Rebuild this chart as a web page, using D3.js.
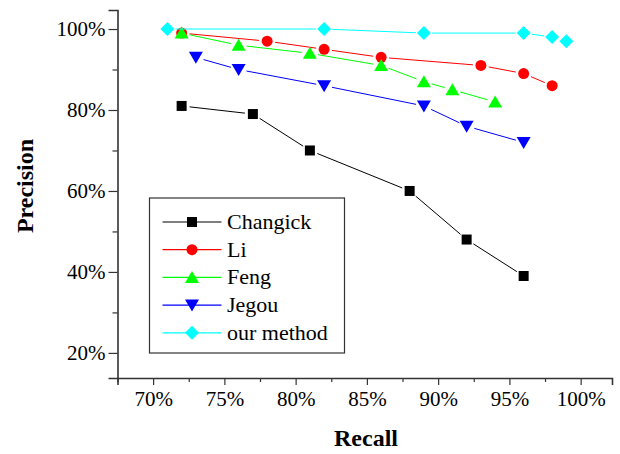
<!DOCTYPE html>
<html>
<head>
<meta charset="utf-8">
<script src="https://cdn.jsdelivr.net/npm/d3@7"></script>
<style>
  body { margin: 0; background: #fff; }
  svg text { fill: #000; }
  .axis path, .axis line { stroke: #333; }
</style>
</head>
<body>
<div id="chart"></div>
<script>
// recall / precision values (in %)
var seriesNames = ["Changick", "Li", "Feng", "Jegou", "our method"];
var seriesColors = ["#000000", "#ff0000", "#00ff00", "#0000ff", "#00ffff"];
var seriesShapes = ["square", "circle", "triangle", "triangleDown", "diamond"];

var changickRecall = [72, 77, 81, 88, 92, 96];
var changickPrecision = [81, 79, 70, 60, 48, 39];

var liRecall = [72, 78, 82, 86, 93, 96, 98];
var liPrecision = [99, 97, 95, 93, 91, 89, 86];

var fengRecall = [72, 76, 81, 86, 89, 91, 94];
var fengPrecision = [99, 96, 94, 91, 87, 85, 82];

var jegouRecall = [73, 76, 82, 89, 92, 96];
var jegouPrecision = [93, 90, 86, 81, 76, 72];

var oursRecall = [71, 82, 89, 96, 98, 99];
var oursPrecision = [100, 100, 99, 99, 98, 97];

var xMajorTicks = [70, 75, 80, 85, 90, 95, 100];
var xMinorTicks = [67.5, 72.5, 77.5, 82.5, 87.5, 92.5, 97.5];
var yMajorTicks = [20, 40, 60, 80, 100];
var yMinorTicks = [30, 50, 70, 90];

var allRecall = [changickRecall, liRecall, fengRecall, jegouRecall, oursRecall];
var allPrecision = [changickPrecision, liPrecision, fengPrecision, jegouPrecision, oursPrecision];

var serif = '"Liberation Serif", "Times New Roman", Times, "Nimbus Roman", "Noto Serif", "DejaVu Serif", FreeSerif, serif';

var svgWidth = 620;
var svgHeight = 454;

var svg = d3.select("#chart")
  .append("svg")
  .attr("width", svgWidth)
  .attr("height", svgHeight);

svg.append("rect")
  .attr("width", svgWidth)
  .attr("height", svgHeight)
  .attr("fill", "#fff");

var xScale = d3.scaleLinear().domain([67.5, 102.2]).range([117.5, 612]);
var yScale = d3.scaleLinear().domain([13.8, 104.7]).range([378, 10]);

// marker path builder
function markerPath(shape) {
  if (shape === "square") return "M-5,-5H5V5H-5Z";
  if (shape === "circle") return "M-5.5,0A5.5,5.5 0 1,0 5.5,0A5.5,5.5 0 1,0 -5.5,0Z";
  if (shape === "triangle") return "M0,-6.5L7,5.5L-7,5.5Z";
  if (shape === "triangleDown") return "M0,6.5L7,-5.5L-7,-5.5Z";
  if (shape === "diamond") return "M0,-7L7,0L0,7L-7,0Z";
}

// axes
var xAxisY = yScale(13.8);
var yAxisX = xScale(67.5);

var xAxis = svg.append("g")
  .attr("class", "axis")
  .attr("transform", `translate(0,${xAxisY})`)
  .call(d3.axisBottom(xScale).tickValues(xMajorTicks).tickSize(7).tickPadding(6).tickFormat(d => d + "%"));
xAxis.attr("font-family", serif);
xAxis.select(".domain").attr("stroke-width", 1.6);
xAxis.selectAll("line").attr("stroke-width", 1.2);
xAxis.selectAll("text").style("font-size", "21px").style("font-family", serif);

svg.append("g")
  .attr("class", "axis")
  .attr("transform", `translate(0,${xAxisY})`)
  .call(d3.axisBottom(xScale).tickValues(xMinorTicks).tickSize(4).tickFormat(""))
  .call(g => g.select(".domain").remove())
  .selectAll("line").attr("stroke-width", 1.2);

var yAxis = svg.append("g")
  .attr("class", "axis")
  .attr("transform", `translate(${yAxisX},0)`)
  .call(d3.axisLeft(yScale).tickValues(yMajorTicks).tickSize(9).tickPadding(3).tickFormat(d => d + "%"));
yAxis.attr("font-family", serif);
yAxis.select(".domain").attr("stroke-width", 1.6);
yAxis.selectAll("line").attr("stroke-width", 1.2);
yAxis.selectAll("text").style("font-size", "21px").style("font-family", serif);

svg.append("g")
  .attr("class", "axis")
  .attr("transform", `translate(${yAxisX},0)`)
  .call(d3.axisLeft(yScale).tickValues(yMinorTicks).tickSize(5).tickFormat(""))
  .call(g => g.select(".domain").remove())
  .selectAll("line").attr("stroke-width", 1.2);

// axis titles
svg.append("text")
  .attr("x", 366)
  .attr("y", 446)
  .attr("text-anchor", "middle")
  .style("font-family", serif)
  .style("font-size", "24px")
  .style("font-weight", "bold")
  .text("Recall");

svg.append("text")
  .attr("transform", "translate(33,186) rotate(-90)")
  .attr("text-anchor", "middle")
  .style("font-family", serif)
  .style("font-size", "24px")
  .style("font-weight", "bold")
  .text("Precision");

// series: line segments leave a small gap around each marker
var gap = 8;
seriesNames.forEach(function(name, i) {
  var pts = allRecall[i].map((r, j) => [xScale(r), yScale(allPrecision[i][j])]);
  var g = svg.append("g");
  for (var j = 0; j < pts.length - 1; j++) {
    var a = pts[j], b = pts[j + 1];
    var dx = b[0] - a[0], dy = b[1] - a[1];
    var len = Math.sqrt(dx * dx + dy * dy);
    if (len <= gap * 2) continue;
    var ux = dx / len, uy = dy / len;
    g.append("line")
      .attr("x1", a[0] + ux * gap)
      .attr("y1", a[1] + uy * gap)
      .attr("x2", b[0] - ux * gap)
      .attr("y2", b[1] - uy * gap)
      .attr("stroke", seriesColors[i])
      .attr("stroke-width", 1);
  }
  g.selectAll("path.mark")
    .data(pts)
    .enter()
    .append("path")
    .attr("class", "mark")
    .attr("transform", d => `translate(${d[0]},${d[1]})`)
    .attr("d", markerPath(seriesShapes[i]))
    .attr("fill", seriesColors[i]);
});

// legend
var legend = svg.append("g").attr("transform", "translate(149.5,198)");
legend.append("rect")
  .attr("width", 195)
  .attr("height", 155)
  .attr("fill", "#fff")
  .attr("stroke", "#333")
  .attr("stroke-width", 1.2);

seriesNames.forEach(function(name, i) {
  var row = legend.append("g").attr("transform", `translate(0,${24 + i * 27.7})`);
  row.append("line")
    .attr("x1", 13)
    .attr("x2", 72)
    .attr("stroke", seriesColors[i])
    .attr("stroke-width", 1.2);
  row.append("path")
    .attr("transform", "translate(42.5,0)")
    .attr("d", markerPath(seriesShapes[i]))
    .attr("fill", seriesColors[i]);
  row.append("text")
    .attr("x", 77.5)
    .attr("y", 7)
    .style("font-family", serif)
    .style("font-size", "22px")
    .text(name);
});
</script>
</body>
</html>
